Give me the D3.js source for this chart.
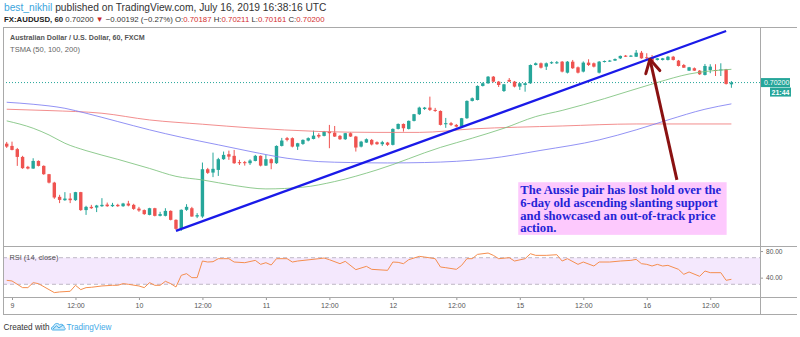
<!DOCTYPE html>
<html><head><meta charset="utf-8">
<script src="https://cdn.jsdelivr.net/npm/d3@7/dist/d3.min.js"></script>
<style>html,body{margin:0;padding:0;background:#fff;}svg{display:block;}</style>
</head><body>
<svg id="chart" width="800" height="337"></svg>
<script>
// ---------- DATA ----------
const firstBar = -1; // bar index of first candle (0 = July 9, 00:00)
const opens = [
0.69744,0.69727,0.69703,0.69645,0.69571,0.69558,0.69615,0.69578,0.69516,0.69453,
0.69347,0.69322,0.69334,0.69322,0.69382,0.69248,0.69272,0.69267,0.69277,0.69289,
0.69277,0.69287,0.69277,0.69297,0.69287,0.69259,0.69248,0.69212,0.69262,0.69205,
0.69205,0.69242,0.69175,0.69108,0.69250,0.69262,0.69200,0.69200,0.69553,0.69528,
0.69548,0.69628,0.69665,0.69653,0.69606,0.69606,0.69598,0.69615,0.69653,0.69580,
0.69628,0.69598,0.69727,0.69785,0.69785,0.69722,0.69742,0.69767,0.69779,0.69809,
0.69802,0.69834,0.69826,0.69802,0.69777,0.69822,0.69797,0.69722,0.69752,0.69772,
0.69755,0.69740,0.69752,0.69735,0.69854,0.69891,0.69854,0.69914,0.69964,0.70003,
0.70013,0.69996,0.69988,0.69889,0.69897,0.69884,0.69871,0.69934,0.70063,0.70070,
0.70175,0.70195,0.70244,0.70207,0.70137,0.70220,0.70207,0.70170,0.70182,0.70195,
0.70331,0.70344,0.70319,0.70344,0.70344,0.70356,0.70274,0.70356,0.70314,0.70282,
0.70349,0.70344,0.70274,0.70354,0.70359,0.70364,0.70381,0.70401,0.70393,0.70393,
0.70423,0.70389,0.70389,0.70369,0.70369,0.70369,0.70393,0.70364,0.70331,0.70289,
0.70307,0.70289,0.70257,0.70294,0.70294,0.70294,0.70299,0.70187];
const highs = [
0.69757,0.69759,0.69712,0.69653,0.69578,0.69635,0.69619,0.69582,0.69518,0.69459,
0.69362,0.69382,0.69374,0.69384,0.69384,0.69280,0.69287,0.69287,0.69337,0.69304,
0.69302,0.69295,0.69302,0.69317,0.69295,0.69272,0.69253,0.69265,0.69265,0.69235,
0.69262,0.69246,0.69179,0.69253,0.69292,0.69272,0.69225,0.69603,0.69563,0.69677,
0.69638,0.69685,0.69692,0.69697,0.69623,0.69615,0.69627,0.69660,0.69656,0.69660,
0.69634,0.69731,0.69787,0.69794,0.69791,0.69750,0.69776,0.69791,0.69841,0.69822,
0.69839,0.69884,0.69876,0.69809,0.69824,0.69828,0.69802,0.69765,0.69783,0.69779,
0.69761,0.69765,0.69757,0.69858,0.69895,0.69895,0.69917,0.69966,0.70020,0.70018,
0.70095,0.70011,0.69992,0.69936,0.69906,0.69891,0.69936,0.70067,0.70089,0.70179,
0.70201,0.70249,0.70249,0.70212,0.70190,0.70234,0.70212,0.70197,0.70197,0.70335,
0.70350,0.70350,0.70350,0.70358,0.70361,0.70361,0.70361,0.70369,0.70320,0.70358,
0.70374,0.70350,0.70361,0.70365,0.70369,0.70380,0.70402,0.70406,0.70406,0.70443,
0.70436,0.70419,0.70406,0.70384,0.70384,0.70399,0.70399,0.70369,0.70339,0.70317,
0.70313,0.70294,0.70339,0.70337,0.70337,0.70344,0.70302,0.70211];
const lows = [
0.69712,0.69694,0.69578,0.69556,0.69552,0.69556,0.69574,0.69511,0.69447,0.69332,
0.69300,0.69317,0.69300,0.69317,0.69242,0.69212,0.69257,0.69233,0.69272,0.69272,
0.69272,0.69272,0.69272,0.69276,0.69250,0.69235,0.69212,0.69209,0.69201,0.69201,
0.69201,0.69171,0.69101,0.69093,0.69242,0.69198,0.69188,0.69190,0.69518,0.69494,
0.69503,0.69623,0.69623,0.69593,0.69585,0.69580,0.69585,0.69612,0.69574,0.69578,
0.69553,0.69593,0.69723,0.69761,0.69716,0.69697,0.69735,0.69761,0.69776,0.69785,
0.69798,0.69710,0.69794,0.69772,0.69772,0.69794,0.69685,0.69716,0.69750,0.69731,
0.69735,0.69727,0.69727,0.69731,0.69850,0.69834,0.69850,0.69910,0.69958,0.69996,
0.69988,0.69981,0.69880,0.69862,0.69876,0.69865,0.69869,0.69929,0.70059,0.70067,
0.70171,0.70190,0.70201,0.70167,0.70130,0.70205,0.70164,0.70145,0.70132,0.70190,
0.70328,0.70305,0.70294,0.70339,0.70339,0.70276,0.70268,0.70302,0.70268,0.70276,
0.70324,0.70313,0.70268,0.70350,0.70354,0.70361,0.70376,0.70391,0.70391,0.70391,
0.70378,0.70369,0.70358,0.70365,0.70365,0.70365,0.70365,0.70320,0.70309,0.70287,
0.70287,0.70257,0.70253,0.70270,0.70249,0.70249,0.70185,0.70161];
const closes = [
0.69722,0.69697,0.69645,0.69561,0.69558,0.69615,0.69578,0.69516,0.69453,0.69342,
0.69324,0.69334,0.69322,0.69382,0.69248,0.69272,0.69262,0.69282,0.69287,0.69277,
0.69287,0.69277,0.69297,0.69282,0.69257,0.69245,0.69218,0.69262,0.69205,0.69218,
0.69242,0.69175,0.69108,0.69250,0.69272,0.69200,0.69210,0.69553,0.69526,0.69556,
0.69628,0.69660,0.69647,0.69598,0.69598,0.69598,0.69618,0.69653,0.69580,0.69628,
0.69598,0.69727,0.69767,0.69772,0.69722,0.69747,0.69772,0.69785,0.69804,0.69797,
0.69834,0.69822,0.69797,0.69777,0.69822,0.69797,0.69715,0.69759,0.69777,0.69738,
0.69740,0.69755,0.69735,0.69854,0.69891,0.69859,0.69914,0.69964,0.70013,0.70013,
0.69996,0.69988,0.69884,0.69897,0.69884,0.69871,0.69934,0.70063,0.70083,0.70175,
0.70195,0.70244,0.70207,0.70182,0.70187,0.70207,0.70170,0.70195,0.70195,0.70331,
0.70344,0.70311,0.70344,0.70352,0.70352,0.70282,0.70356,0.70307,0.70274,0.70349,
0.70331,0.70319,0.70356,0.70361,0.70364,0.70376,0.70399,0.70393,0.70401,0.70423,
0.70381,0.70384,0.70361,0.70381,0.70381,0.70393,0.70369,0.70324,0.70311,0.70314,
0.70289,0.70262,0.70324,0.70319,0.70289,0.70298,0.70190,0.70200];

const sma50Bars = [-1,4,7,10,14,20,26,31,36,42,48,55,61,69,81,87,93,99,104,112,122,128,136];
const sma50Vals = [0.69914,0.69859,0.69809,0.69747,0.69692,0.69627,0.69559,0.69500,0.69473,0.69432,0.69406,0.69419,0.69461,0.69548,0.69716,0.69785,0.69859,0.69946,0.69992,0.70080,0.70201,0.70264,0.70299];
const sma100Bars = [-1,4,10,14,20,26,32,39,45,52,58,64,71,78,90,100,111,118,124,131,136];
const sma100Vals = [0.70053,0.70038,0.70008,0.69971,0.69909,0.69847,0.69792,0.69735,0.69686,0.69635,0.69610,0.69603,0.69600,0.69603,0.69632,0.69694,0.69772,0.69847,0.69921,0.70001,0.70041];
const sma200Bars = [-1,7,17,26,36,45,58,69,77,87,104,118,136];
const sma200Vals = [0.70001,0.69991,0.69971,0.69921,0.69889,0.69862,0.69835,0.69828,0.69828,0.69854,0.69876,0.69891,0.69891];

const rsiBars = [-1,0,2,3,4,5,8,9,11,12,13,14,15,17,19,20,21,22,24,25,26,27,28,29,30,31,32,33,34,35,36,37,38,39,40,41,42,44,46,47,48,49,50,52,53,54,58,59,60,62,63,65,67,68,71,72,73,74,75,77,78,80,81,82,84,85,86,87,88,90,91,92,94,95,97,98,99,101,103,104,105,107,108,110,111,113,115,117,118,119,120,121,122,123,124,126,127,128,130,131,132,134,135,136];
const rsiVals = [36,35,25,25,32.5,31,17.5,18.5,19.5,28.5,22,25,25.5,27.5,28.5,28.5,31,30,27.5,25,32.5,28.5,28.5,34.5,31,26,43.5,46,40,40,65,63.5,64,68.5,68.5,68.5,63.5,62.5,66,60,62.5,59,68.5,68.5,63.5,65,68.5,69.5,67,61,64.5,52,57,52.5,51,63.5,63,61,67,72,71,68.5,56,55,52.5,58.5,68.5,68.5,75,77,73.5,68.5,70,65,68.5,76,73.5,73.5,74.5,65,68.5,60,63.5,57.5,63.5,63.5,65,66,67.5,61,60,57.5,60,57.5,58.5,52.5,45,48.5,42,50,47.5,47.5,36,37.5];

const priceTicks = [0.690,0.692,0.694,0.696,0.698,0.700,0.702,0.704,0.706];
const rsiTicks = [80,40];
const rsiBands = [70,30];
const timeTickBars = [0,12,24,36,48,60,72,84,96,108,120,132];
const timeTickLabels = ["9","12:00","10","12:00","11","12:00","12","12:00","15","12:00","16","12:00"];

const trendBars = [31,135];
const trendVals = [0.69093,0.70585];
const arrowFrom = [125.7,0.69473];
const arrowTo = [120.6,0.70374];
const noteBox = {bar0:95.7, bar1:135.1, top:0.69456, bottom:0.69063};
const noteLines = ["The Aussie pair has lost hold over the","6-day old ascending slanting support","and showcased an out-of-track price","action."];

const author = "best_nikhil";
const headerRest = " published on TradingView.com, July 16, 2019 16:38:16 UTC";
const symbolText = "FX:AUDUSD, 60";
const changeText = " \u22120.00192 (\u22120.27%) ";
const titleText = "Australian Dollar / U.S. Dollar, 60, FXCM";
const studyText = "TSMA (50, 100, 200)";
const rsiText = "RSI (14, close)";
const countdown = "21:44";

// ---------- DRAW ----------
const sans = "'Liberation Sans', Arial, sans-serif";
const svg = d3.select('#chart');
const P = {left:3,right:797,top:27,axisX:760,mainBottom:246,rsiBottom:297,bottom:314};
const x = d3.scaleLinear().domain([0,136]).range([12,731.4]);
const y = d3.scaleLinear().domain([0.690,0.706]).range([243.3,29]);
const yR = d3.scaleLinear().domain([30,70]).range([284.3,257.7]);
const GREEN = '#26a69a', RED = '#ef5350';
const f5 = d3.format('.5f');

function fit(t, w){ const l=t.node().getComputedTextLength(); if(l>0) t.attr('font-size', parseFloat(t.attr('font-size'))*w/l); }

const defs = svg.append('defs');
defs.append('clipPath').attr('id','cm').append('rect').attr('x',P.left).attr('y',P.top).attr('width',P.axisX-P.left).attr('height',P.mainBottom-P.top);
defs.append('clipPath').attr('id','cr').append('rect').attr('x',P.left).attr('y',P.mainBottom).attr('width',P.axisX-P.left).attr('height',P.rsiBottom-P.mainBottom);
defs.append('clipPath').attr('id','ca').append('rect').attr('x',P.axisX).attr('y',P.top+1).attr('width',P.right-P.axisX+3).attr('height',P.mainBottom-P.top-1);

// header
const h1 = svg.append('text').attr('x',4).attr('y',11).attr('font-family',sans).attr('font-size',10);
h1.append('tspan').attr('fill','#3ca5dd').text(author);
h1.append('tspan').attr('fill','#333').text(headerRest);
fit(h1,323);
const last = closes.length-1;
const h2 = svg.append('text').attr('x',4).attr('y',21.5).attr('font-family',sans).attr('font-size',10).attr('fill','#333');
h2.append('tspan').attr('font-weight','bold').attr('fill','#222').text(symbolText);
h2.append('tspan').text(' '+f5(closes[last])+' ');
h2.append('tspan').attr('fill','#c62828').text('\u25BC');
h2.append('tspan').text(changeText+'O:');
h2.append('tspan').attr('fill','#d32f2f').text(f5(opens[last]));
h2.append('tspan').text(' H:');
h2.append('tspan').attr('fill','#d32f2f').text(f5(highs[last]));
h2.append('tspan').text(' L:');
h2.append('tspan').attr('fill','#d32f2f').text(f5(lows[last]));
h2.append('tspan').text(' C:');
h2.append('tspan').attr('fill','#d32f2f').text(f5(closes[last]));
fit(h2,321);

// RSI band
svg.append('rect').attr('x',P.left).attr('width',P.axisX-P.left).attr('y',yR(70)).attr('height',yR(30)-yR(70)).attr('fill','#f4e8fd');
svg.selectAll('.band').data(rsiBands).enter().append('line')
  .attr('x1',P.left).attr('x2',P.axisX).attr('y1',d=>yR(d)).attr('y2',d=>yR(d))
  .attr('stroke','#b0a8b8').attr('stroke-dasharray','4,3').attr('stroke-width',0.8);

// main pane
const gm = svg.append('g').attr('clip-path','url(#cm)');
gm.append('line').attr('x1',P.left).attr('x2',P.axisX).attr('y1',y(closes[last])).attr('y2',y(closes[last]))
  .attr('stroke',GREEN).attr('stroke-dasharray','1,2').attr('stroke-width',1);

const bars = opens.map((o,k)=>({i:firstBar+k,o,h:highs[k],l:lows[k],c:closes[k]}));
const cg = gm.append('g');
cg.selectAll('.wick').data(bars).enter().append('line')
  .attr('x1',d=>x(d.i)).attr('x2',d=>x(d.i)).attr('y1',d=>y(d.h)).attr('y2',d=>y(d.l))
  .attr('stroke',d=>d.c>=d.o?GREEN:RED).attr('stroke-width',1);
cg.selectAll('.body').data(bars).enter().append('rect')
  .attr('x',d=>x(d.i)-1.7).attr('width',3.4)
  .attr('y',d=>y(Math.max(d.o,d.c)))
  .attr('height',d=>Math.max(1,Math.abs(y(d.o)-y(d.c))))
  .attr('fill',d=>d.c>=d.o?GREEN:RED);

function maLine(bs,vs,color){
  const pts = bs.map((b,k)=>[x(b),y(vs[k])]);
  gm.append('path').attr('d',d3.line().curve(d3.curveMonotoneX)(pts))
    .attr('fill','none').attr('stroke',color).attr('stroke-width',1).attr('stroke-opacity',0.85);
}
maLine(sma200Bars,sma200Vals,'#f07a7a');
maLine(sma100Bars,sma100Vals,'#7f7ff2');
maLine(sma50Bars,sma50Vals,'#7dc27d');

// trendline
gm.append('line').attr('x1',x(trendBars[0])).attr('y1',y(trendVals[0])).attr('x2',x(trendBars[1])).attr('y2',y(trendVals[1]))
  .attr('stroke','#1a1ae8').attr('stroke-width',2.2);

// note box
const bx0=x(noteBox.bar0), bx1=x(noteBox.bar1), by0=y(noteBox.top), by1=y(noteBox.bottom);
gm.append('rect').attr('x',bx0).attr('y',by0).attr('width',bx1-bx0).attr('height',by1-by0).attr('fill','#fdc9fd');
const nt = gm.append('g');
const first = nt.append('text').attr('x',bx0+2).attr('y',by0+12.2).attr('font-family',"'Liberation Serif','Times New Roman',serif")
  .attr('font-weight','bold').attr('font-size',13).attr('fill','#2424d6').text(noteLines[0]);
fit(first,201);
const fs = first.attr('font-size');
noteLines.slice(1).forEach((t,k)=>{
  nt.append('text').attr('x',bx0+2).attr('y',by0+12.2+(k+1)*12.6).attr('font-family',"'Liberation Serif','Times New Roman',serif")
    .attr('font-weight','bold').attr('font-size',fs).attr('fill','#2424d6').text(t);
});

// arrow
const ax0=x(arrowFrom[0]), ay0=y(arrowFrom[1]), ax1=x(arrowTo[0]), ay1=y(arrowTo[1]);
const dx=ax0-ax1, dy=ay0-ay1, len=Math.hypot(dx,dy), ux=dx/len, uy=dy/len;
const rot=(a)=>[ux*Math.cos(a)-uy*Math.sin(a), ux*Math.sin(a)+uy*Math.cos(a)];
const r1=rot(0.5), r2=rot(-0.5), AL=15;
gm.append('line').attr('x1',ax0).attr('y1',ay0).attr('x2',ax1).attr('y2',ay1).attr('stroke','#8a1111').attr('stroke-width',3);
gm.append('path').attr('d',`M${ax1+r1[0]*AL},${ay1+r1[1]*AL}L${ax1},${ay1}L${ax1+r2[0]*AL},${ay1+r2[1]*AL}`)
  .attr('fill','none').attr('stroke','#8a1111').attr('stroke-width',3).attr('stroke-linecap','round').attr('stroke-linejoin','round');

// RSI line
const gr = svg.append('g').attr('clip-path','url(#cr)');
gr.append('path').attr('d',d3.line()(rsiBars.map((b,k)=>[x(b),yR(rsiVals[k])])))
  .attr('fill','none').attr('stroke','#f58e4f').attr('stroke-width',1);

// texts in panes
const tt = svg.append('text').attr('x',10).attr('y',40).attr('font-family',sans).attr('font-weight','bold').attr('font-size',8).attr('fill','#555').text(titleText);
fit(tt,135);
const st = svg.append('text').attr('x',10).attr('y',52).attr('font-family',sans).attr('font-size',8).attr('fill','#666').text(studyText);
fit(st,70);
const rt = svg.append('text').attr('x',9.5).attr('y',260).attr('font-family',sans).attr('font-size',8).attr('fill','#555').text(rsiText);
fit(rt,49);

// axes
const pa = svg.append('g').attr('transform',`translate(${P.axisX},0)`).attr('clip-path','url(#ca)')
  .call(d3.axisRight(y).tickValues(priceTicks).tickFormat(f5).tickSize(3).tickPadding(1.5));
pa.select('.domain').remove();
pa.selectAll('text').attr('font-family',sans).attr('font-size',7).attr('fill','#555');
pa.selectAll('line').attr('stroke','#999');

const ra = svg.append('g').attr('transform',`translate(${P.axisX},0)`)
  .call(d3.axisRight(yR).tickValues(rsiTicks).tickFormat(d3.format('.2f')).tickSize(3).tickPadding(3));
ra.select('.domain').remove();
ra.selectAll('text').attr('font-family',sans).attr('font-size',6.6).attr('fill','#555');
ra.selectAll('line').attr('stroke','#999');

const ta = svg.append('g').attr('transform',`translate(0,${P.rsiBottom})`)
  .call(d3.axisBottom(x).tickValues(timeTickBars).tickFormat((d,k)=>timeTickLabels[k]).tickSize(3).tickPadding(3.5));
ta.select('.domain').remove();
ta.selectAll('text').attr('font-family',sans).attr('font-size',7).attr('fill','#555');
ta.selectAll('line').attr('stroke','#999');

// frame and separators
const fr = svg.append('g').attr('stroke','#a9a9a9').attr('stroke-width',1).attr('shape-rendering','crispEdges');
fr.append('line').attr('x1',P.left).attr('x2',P.right).attr('y1',P.top).attr('y2',P.top);
fr.append('line').attr('x1',P.left).attr('x2',P.left).attr('y1',P.top).attr('y2',P.bottom);
fr.append('line').attr('x1',P.left).attr('x2',P.right).attr('y1',P.bottom).attr('y2',P.bottom);
fr.append('line').attr('x1',P.left).attr('x2',P.right).attr('y1',P.mainBottom).attr('y2',P.mainBottom);
fr.append('line').attr('x1',P.left).attr('x2',P.right).attr('y1',P.rsiBottom).attr('y2',P.rsiBottom);
fr.append('line').attr('x1',P.axisX).attr('x2',P.axisX).attr('y1',P.top).attr('y2',P.bottom);

// current price labels
const cy = y(closes[last]);
svg.append('rect').attr('x',P.axisX+1).attr('y',cy-4.5).attr('width',29).attr('height',9).attr('fill',GREEN);
svg.append('text').attr('x',P.axisX+4).attr('y',cy+2.6).attr('font-family',sans).attr('font-size',7).attr('fill','#fff').text(f5(closes[last]));
svg.append('rect').attr('x',P.axisX+10).attr('y',cy+5).attr('width',21).attr('height',9).attr('fill',GREEN);
svg.append('text').attr('x',P.axisX+20.5).attr('y',cy+12).attr('text-anchor','middle').attr('font-family',sans).attr('font-weight','bold').attr('font-size',7).attr('fill','#fff').text(countdown);

// footer
const ft = svg.append('text').attr('x',3.5).attr('y',329.5).attr('font-family',sans).attr('font-size',8.5).attr('fill','#333').text('Created with');
fit(ft,46);
svg.append('path').attr('d','M52.5,330 C51,330 51,326.5 53.5,326.5 C54,323 58.5,322.5 59.5,325 C61,323.5 64.5,324.5 64,327.5 C66,328 65.5,330 64,330 Z')
  .attr('fill','#cdeafa').attr('stroke','#3fa9e6').attr('stroke-width',0.9);
svg.append('path').attr('d','M53,329 L56.5,325.8 L59,328 L63,325').attr('fill','none').attr('stroke','#3fa9e6').attr('stroke-width',1);
const tv = svg.append('text').attr('x',66.5).attr('y',329.5).attr('font-family',sans).attr('font-size',8.5).attr('fill','#3fa9e6').text('TradingView');
fit(tv,45);
</script>
</body></html>
